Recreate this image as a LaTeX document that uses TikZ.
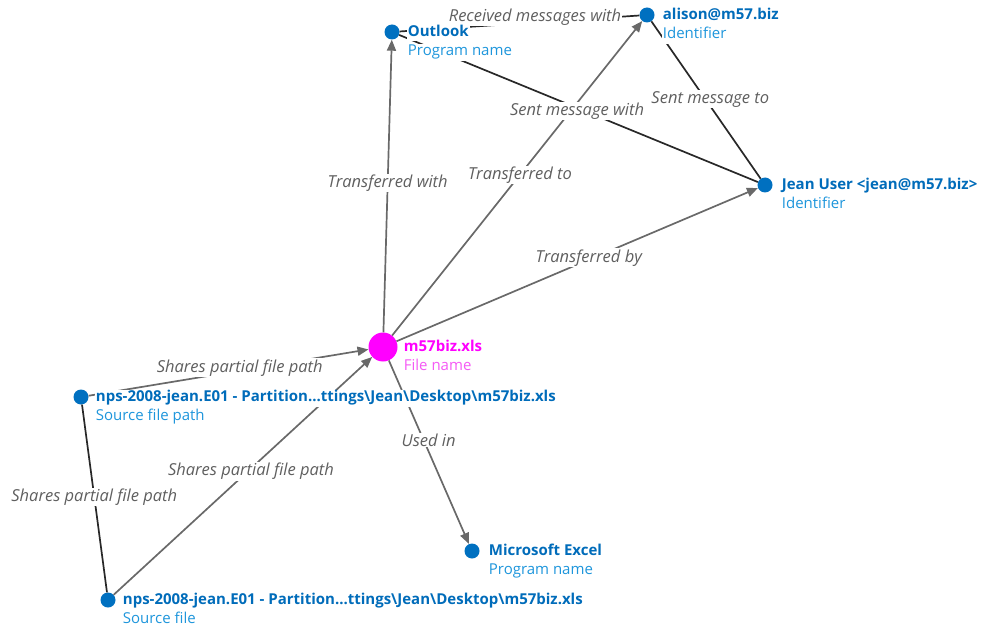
\documentclass[tikz,border=0pt]{standalone}
\usepackage{fontspec}
\setmainfont{Open Sans}
\usetikzlibrary{arrows.meta, positioning}

\definecolor{dotblue}{RGB}{0,112,192}
\definecolor{nameblue}{RGB}{0,108,186}
\definecolor{typeblue}{RGB}{30,150,220}
\definecolor{hubpink}{RGB}{255,0,255}
\definecolor{typepink}{RGB}{245,90,245}
\definecolor{arrowgray}{RGB}{105,105,105}
\definecolor{linkgray}{RGB}{40,40,40}
\definecolor{labelgray}{RGB}{95,95,95}

\begin{document}
\begin{tikzpicture}[
        x=1pt, y=-1pt,
        every node/.style={font=\fontsize{15}{17}\selectfont},
        entity/.style={circle, fill=dotblue, minimum size=15pt, inner sep=0pt},
        hub/.style={circle, fill=hubpink, minimum size=29pt, inner sep=0pt},
        itemname/.style={font=\fontsize{15}{17}\selectfont\bfseries, text=nameblue, fill=white, inner sep=1pt, text height=11pt, text depth=4pt},
        itemtype/.style={text=typeblue, fill=white, inner sep=1pt, text height=11pt, text depth=4pt},
        arrow/.style={->, >={Triangle[length=11pt, width=9pt]}, draw=arrowgray, line width=1.7pt},
        link/.style={draw=linkgray, line width=1.7pt},
        edgelabel/.style={font=\fontsize{16.5}{18}\selectfont\itshape, text=labelgray, fill=white, inner sep=1pt}
    ]
    \useasboundingbox (0,0) rectangle (992,628);

    % Nodes
    \node[entity] (outlook) at (392,32) {};
    \node[entity] (alison) at (647,15) {};
    \node[entity] (jean) at (765,185) {};
    \node[hub] (xls) at (383,347) {};
    \node[entity] (srcpath) at (81,397) {};
    \node[entity] (srcfile) at (108,600) {};
    \node[entity] (excel) at (472,551) {};

    % Connectors
    \draw[arrow] (xls) -- node[edgelabel, pos=0.51] {Transferred with} (outlook);
    \draw[arrow] (xls) -- node[edgelabel, pos=0.511] {Transferred to} (alison);
    \draw[arrow] (xls) -- node[edgelabel, pos=0.532, yshift=2pt] {Transferred by} (jean);
    \draw[link] (outlook) -- node[edgelabel, pos=0.548, xshift=4pt, yshift=6pt] {Received messages with} (alison);
    \draw[link] (outlook) -- node[edgelabel, pos=0.496, yshift=-3pt] {Sent message with} (jean);
    \draw[link] (alison) -- node[edgelabel, pos=0.494, xshift=5pt] {Sent message to} (jean);
    \draw[arrow] (srcpath) -- node[edgelabel, pos=0.54, yshift=3pt] {Shares partial file path} (xls);
    \draw[arrow] (srcfile) -- node[edgelabel, pos=0.531, yshift=-3pt] {Shares partial file path} (xls);
    \draw[link] (srcpath) -- node[edgelabel, pos=0.492] {Shares partial file path} (srcfile);
    \draw[arrow] (xls) -- node[edgelabel, pos=0.434, xshift=5pt] {Used in} (excel);

    % Names and types
    \node[itemname, right=7pt of outlook, yshift=-1pt] (outlook-name) {Outlook};
    \node[itemtype, below right=2pt and 0pt of outlook-name.south west] {Program name};
    \node[itemname, right=7pt of alison, yshift=-1pt] (alison-name) {alison@m57.biz};
    \node[itemtype, below right=2pt and 0pt of alison-name.south west] {Identifier};
    \node[itemname, right=8pt of jean, yshift=-1pt] (jean-name) {Jean User <jean@m57.biz>};
    \node[itemtype, below right=2pt and 0pt of jean-name.south west] {Identifier};
    \node[itemname, text=hubpink, right=5pt of xls, yshift=-1pt] (xls-name) {m57biz.xls};
    \node[itemtype, text=typepink, below right=2pt and 0pt of xls-name.south west] {File name};
    \node[itemname, right=6pt of srcpath, yshift=-1pt] (srcpath-name) {nps-2008-jean.E01 - Partition...ttings\textbackslash Jean\textbackslash Desktop\textbackslash m57biz.xls};
    \node[itemtype, below right=2pt and 0pt of srcpath-name.south west] {Source file path};
    \node[itemname, right=6pt of srcfile, yshift=-1pt] (srcfile-name) {nps-2008-jean.E01 - Partition...ttings\textbackslash Jean\textbackslash Desktop\textbackslash m57biz.xls};
    \node[itemtype, below right=2pt and 0pt of srcfile-name.south west] {Source file};
    \node[itemname, right=8pt of excel, yshift=-1pt] (excel-name) {Microsoft Excel};
    \node[itemtype, below right=2pt and 0pt of excel-name.south west] {Program name};
\end{tikzpicture}
\end{document}
